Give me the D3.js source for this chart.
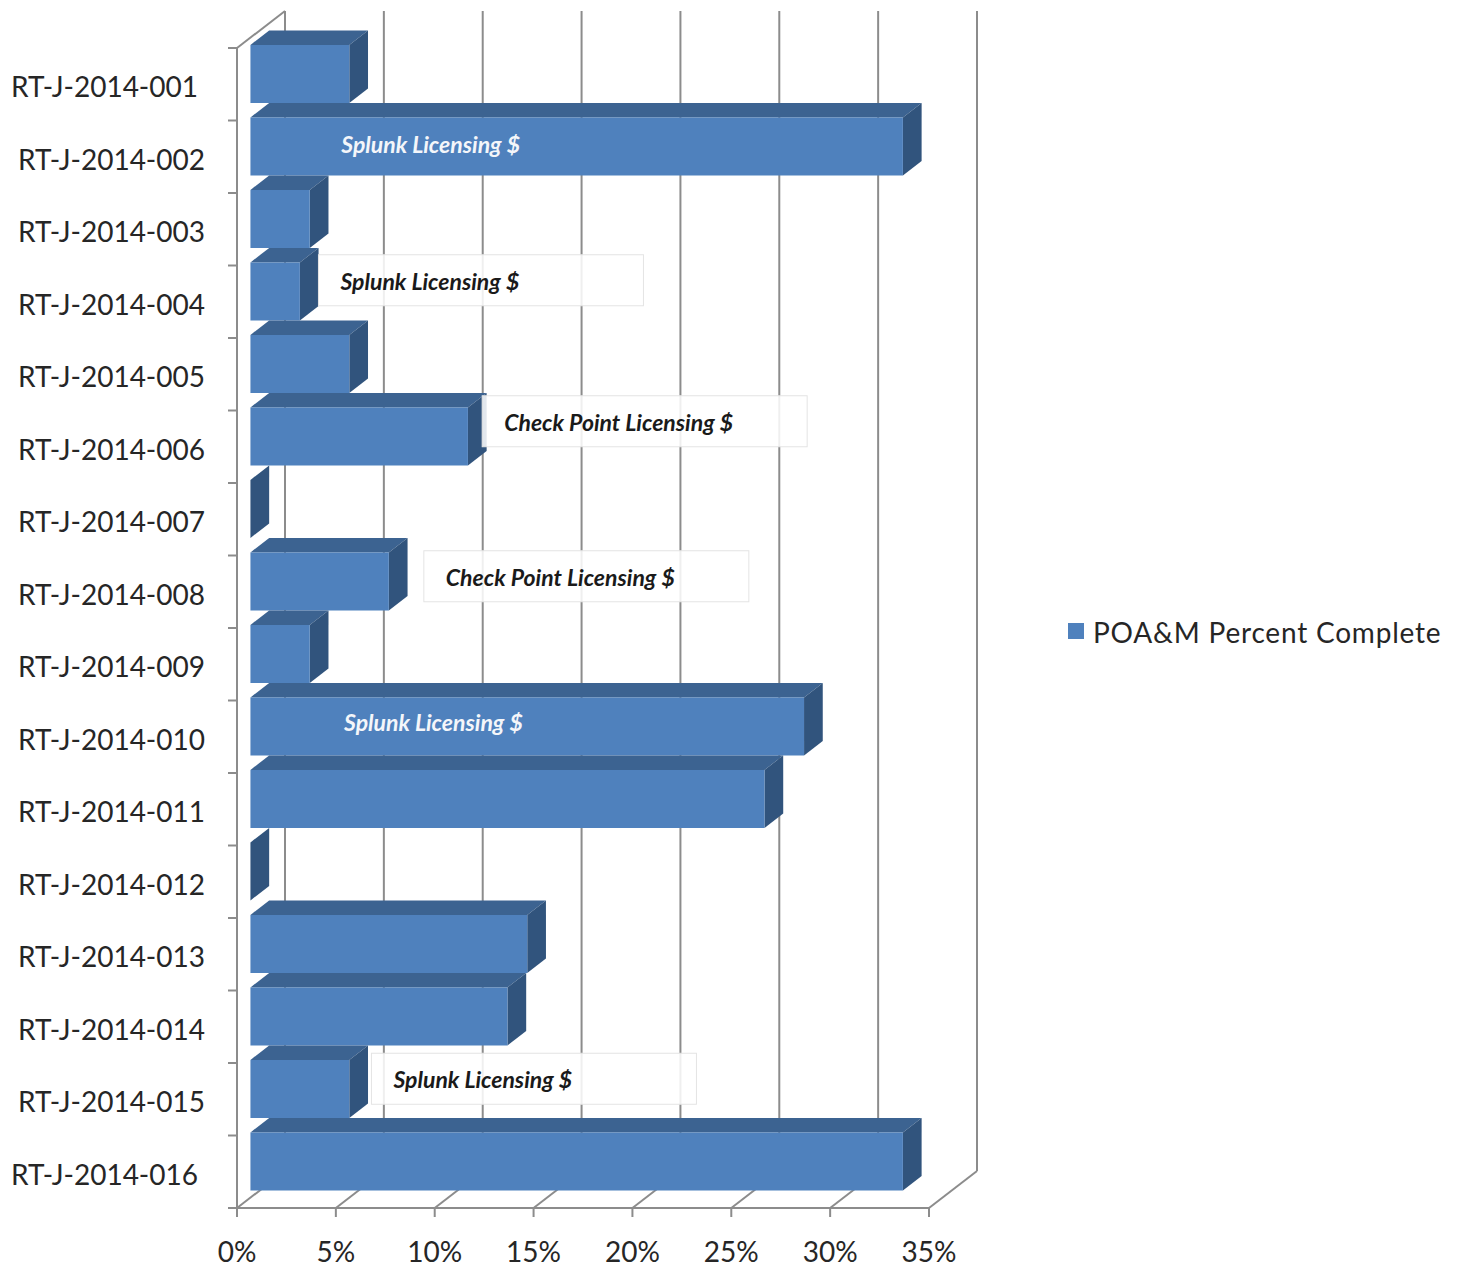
<!DOCTYPE html>
<html>
<head>
<meta charset="utf-8">
<script src="https://cdn.jsdelivr.net/npm/d3@7"></script>
<style>
  html, body { margin: 0; padding: 0; background: #ffffff; }
  svg { display: block; }
</style>
</head>
<body>
<svg id="chart" width="1462" height="1267"></svg>
<script>
// ---- data ----
const categories = [
  "RT-J-2014-001", "RT-J-2014-002", "RT-J-2014-003", "RT-J-2014-004",
  "RT-J-2014-005", "RT-J-2014-006", "RT-J-2014-007", "RT-J-2014-008",
  "RT-J-2014-009", "RT-J-2014-010", "RT-J-2014-011", "RT-J-2014-012",
  "RT-J-2014-013", "RT-J-2014-014", "RT-J-2014-015", "RT-J-2014-016"
];
const percentComplete = [5, 33, 3, 2.5, 5, 11, 0, 7, 3, 28, 26, 0, 14, 13, 5, 33];
const xTickValues = [0, 5, 10, 15, 20, 25, 30, 35];
const seriesName = "POA&M Percent Complete";

const noteCategories = ["RT-J-2014-002", "RT-J-2014-004", "RT-J-2014-006",
                        "RT-J-2014-008", "RT-J-2014-010", "RT-J-2014-015"];
const noteTexts = ["Splunk Licensing $", "Splunk Licensing $", "Check Point Licensing $",
                   "Check Point Licensing $", "Splunk Licensing $", "Splunk Licensing $"];

// ---- layout ----
const svg = d3.select("#chart");
const FRONT_LEFT = 237, FRONT_RIGHT = 929;   // front floor edge
const FLOOR_Y = 1208, WALL_TOP = 48;          // front plane vertical extent
const DX = 48, DY = -37;                      // full depth offset of the box
const Z0 = 0.28, Z1 = 0.67;                   // bar depth span (fraction of box depth)

const x = d3.scaleLinear().domain([0, 35]).range([FRONT_LEFT, FRONT_RIGHT]);
const y = d3.scaleBand().domain(categories).range([WALL_TOP, FLOOR_Y])
  .paddingInner(0.2).paddingOuter(0.1);

// project (value, screen y on front plane, depth fraction) to screen
const P = (v, yy, z) => [x(v) + z * DX, yy + z * DY];
const poly = pts => "M" + pts.map(p => p.join(",")).join("L") + "Z";

const gridColor = "#8c8c8c";
const frontColor = "#4f81bd", topColor = "#3c6391", sideColor = "#31547d";

// back wall gridlines
const grid = svg.append("g");
grid.selectAll("line.back").data(xTickValues).join("line")
  .attr("x1", d => x(d) + DX).attr("x2", d => x(d) + DX)
  .attr("y1", WALL_TOP + DY).attr("y2", FLOOR_Y + DY)
  .attr("stroke", gridColor).attr("stroke-width", 2);
// floor depth lines
grid.selectAll("line.floor").data(xTickValues).join("line")
  .attr("x1", d => x(d)).attr("x2", d => x(d) + DX)
  .attr("y1", FLOOR_Y).attr("y2", FLOOR_Y + DY)
  .attr("stroke", gridColor).attr("stroke-width", 2);
// left wall top edge
grid.append("line")
  .attr("x1", x(0)).attr("y1", WALL_TOP).attr("x2", x(0) + DX).attr("y2", WALL_TOP + DY)
  .attr("stroke", gridColor).attr("stroke-width", 2);
// front value axis line
grid.append("line")
  .attr("x1", x(0)).attr("x2", x(35)).attr("y1", FLOOR_Y).attr("y2", FLOOR_Y)
  .attr("stroke", gridColor).attr("stroke-width", 2);
// front category axis line
grid.append("line")
  .attr("x1", x(0)).attr("x2", x(0)).attr("y1", WALL_TOP).attr("y2", FLOOR_Y)
  .attr("stroke", gridColor).attr("stroke-width", 2);

// category tick marks at band boundaries
const boundaries = d3.range(categories.length + 1).map(i => WALL_TOP + i * y.step());
grid.selectAll("line.ctick").data(boundaries).join("line")
  .attr("x1", x(0) - 9).attr("x2", x(0)).attr("y1", d => d).attr("y2", d => d)
  .attr("stroke", gridColor).attr("stroke-width", 2);
// value tick marks
grid.selectAll("line.vtick").data(xTickValues).join("line")
  .attr("x1", d => x(d)).attr("x2", d => x(d)).attr("y1", FLOOR_Y).attr("y2", FLOOR_Y + 9)
  .attr("stroke", gridColor).attr("stroke-width", 2);

// value tick labels
svg.append("g").selectAll("text").data(xTickValues).join("text")
  .attr("x", d => x(d)).attr("y", 1251)
  .attr("text-anchor", "middle").attr("dominant-baseline", "central")
  .attr("font-family", "Lato, 'Open Sans', sans-serif").attr("font-size", 28)
  .attr("fill", "#262626")
  .text(d => d + "%");

// category labels
svg.append("g").selectAll("text").data(categories).join("text")
  .attr("x", (d, i) => (i === 0 || i === categories.length - 1) ? 198 : 205)
  .attr("y", d => y(d) - 0.1 * y.step() + y.step() / 2 + 2)
  .attr("text-anchor", "end").attr("dominant-baseline", "central")
  .attr("font-family", "Lato, 'Open Sans', sans-serif").attr("font-size", 28)
  .attr("fill", "#262626")
  .text(d => d);

// 3-D bars
const rows = categories.map((c, i) => ({ cat: c, v: percentComplete[i] }));
const bars = svg.append("g").selectAll("g").data(rows).join("g");
bars.append("path")   // top face
  .attr("d", d => {
    const t = y(d.cat);
    return poly([P(0, t, Z0), P(d.v, t, Z0), P(d.v, t, Z1), P(0, t, Z1)]);
  })
  .attr("fill", topColor);
bars.append("path")   // side face
  .attr("d", d => {
    const t = y(d.cat), b = t + y.bandwidth();
    return poly([P(d.v, t, Z0), P(d.v, t, Z1), P(d.v, b, Z1), P(d.v, b, Z0)]);
  })
  .attr("fill", sideColor);
bars.append("path")   // front face
  .attr("d", d => {
    const t = y(d.cat), b = t + y.bandwidth();
    return poly([P(0, t, Z0), P(d.v, t, Z0), P(d.v, b, Z0), P(0, b, Z0)]);
  })
  .attr("fill", frontColor);

// annotation text boxes: left edge (in axis units), vertical shift, inside-bar flag
const noteLayout = [
  { left: 4.16, dy: -14, inside: true },
  { left: 4.12, dy: -22, inside: false },
  { left: 12.4, dy: -26, inside: false },
  { left: 9.45, dy: -16, inside: false },
  { left: 4.3,  dy: -16, inside: true },
  { left: 6.8,  dy: -21, inside: false }
];
const notes = noteCategories.map((c, i) => ({ cat: c, text: noteTexts[i], ...noteLayout[i] }));
const noteG = svg.append("g").selectAll("g").data(notes).join("g")
  .attr("transform", d => `translate(${x(d.left)},${y(d.cat) - 0.1 * y.step() + y.step() / 2 + d.dy})`);
noteG.filter(d => !d.inside).append("rect")
  .attr("x", 0).attr("y", -25).attr("width", 325).attr("height", 51)
  .attr("fill", "#ffffff").attr("fill-opacity", 0.86)
  .attr("stroke", "#e4e4e4").attr("stroke-width", 1);
noteG.append("text")
  .attr("x", 22).attr("y", 1)
  .attr("dominant-baseline", "central")
  .attr("font-family", "Lato, 'Open Sans', sans-serif").attr("font-size", 23)
  .attr("font-weight", "bold").attr("font-style", "italic")
  .attr("fill", d => d.inside ? "#f4f6fa" : "#1a1a1a")
  .text(d => d.text);

// legend
const legend = svg.append("g").attr("transform", "translate(1068,623)");
legend.append("rect").attr("width", 16).attr("height", 16).attr("fill", frontColor);
legend.append("text")
  .attr("x", 25).attr("y", 9).attr("dominant-baseline", "central")
  .attr("font-family", "Lato, 'Open Sans', sans-serif").attr("font-size", 28)
  .attr("letter-spacing", 0.8)
  .attr("fill", "#262626")
  .text(seriesName);
</script>
</body>
</html>
